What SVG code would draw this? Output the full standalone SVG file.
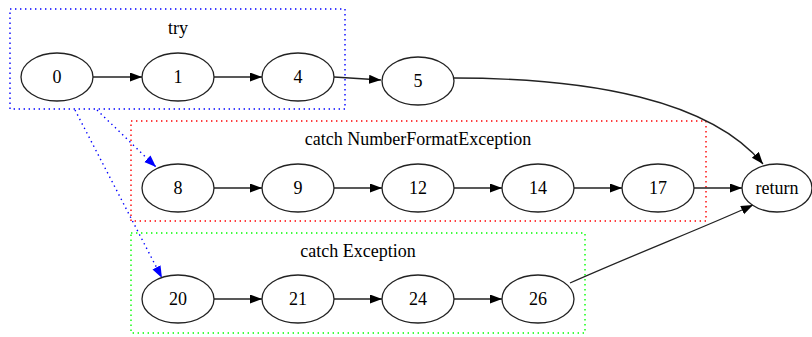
<svg xmlns="http://www.w3.org/2000/svg" width="812" height="337" viewBox="0 0 812 337">
<style>
  .node ellipse { fill: none; stroke: #222; stroke-width: 1.3; }
  text { font-family: "Liberation Serif", "Times New Roman", serif; font-size: 18px; fill: #000; text-anchor: middle; }
  .edge { fill: none; stroke: #222; stroke-width: 1.3; }
  .dot { fill: none; stroke: #0000ff; stroke-width: 1.4; stroke-dasharray: 1.4 3.6; }
  .cluster rect { fill: none; stroke-width: 1.4; stroke-dasharray: 1.4 3.6; }
</style>
<defs>
  <marker id="ah" markerUnits="userSpaceOnUse" markerWidth="13" markerHeight="10" refX="12" refY="4.5" orient="auto">
    <path d="M0,0 L12,4.5 L0,9 z" fill="#000"/>
  </marker>
  <marker id="ahb" markerUnits="userSpaceOnUse" markerWidth="13" markerHeight="10" refX="12" refY="4.5" orient="auto">
    <path d="M0,0 L12,4.5 L0,9 z" fill="#0000ff"/>
  </marker>
</defs>

<g id="cluster_try" class="cluster">
  <rect x="10" y="9" width="335" height="100" stroke="#0000ff"/>
  <text x="178" y="34">try</text>
</g>
<g id="cluster_nfe" class="cluster">
  <rect x="131" y="121" width="575" height="100" stroke="#ff0000"/>
  <text x="418" y="145">catch NumberFormatException</text>
</g>
<g id="cluster_exc" class="cluster">
  <rect x="131" y="233" width="454" height="100" stroke="#00ff00"/>
  <text x="358" y="257">catch Exception</text>
</g>

<g id="edges">
  <path class="edge" d="M93,77 L142,77" marker-end="url(#ah)"/>
  <path class="edge" d="M214,77 L262,77" marker-end="url(#ah)"/>
  <path class="edge" d="M334,77 L381,80" marker-end="url(#ah)"/>
  <path class="edge" d="M454,78 C590,78 710,100 763,164" marker-end="url(#ah)"/>
  <path class="edge" d="M214,188 L262,188" marker-end="url(#ah)"/>
  <path class="edge" d="M334,188 L382,188" marker-end="url(#ah)"/>
  <path class="edge" d="M454,188 L502,188" marker-end="url(#ah)"/>
  <path class="edge" d="M574,188 L622,188" marker-end="url(#ah)"/>
  <path class="edge" d="M694,188 L742,188" marker-end="url(#ah)"/>
  <path class="edge" d="M214,299 L262,299" marker-end="url(#ah)"/>
  <path class="edge" d="M334,299 L382,299" marker-end="url(#ah)"/>
  <path class="edge" d="M454,299 L502,299" marker-end="url(#ah)"/>
  <path class="edge" d="M570,283 C640,252 710,225 753,205" marker-end="url(#ah)"/>
  <path class="dot" d="M97,110 L156,167" marker-end="url(#ahb)"/>
  <path class="dot" d="M75,110 L162,278" marker-end="url(#ahb)"/>
</g>

<g id="n0" class="node"><ellipse cx="57" cy="77" rx="36" ry="24"/><text x="57" y="83">0</text></g>
<g id="n1" class="node"><ellipse cx="178" cy="77" rx="36" ry="24"/><text x="178" y="83">1</text></g>
<g id="n4" class="node"><ellipse cx="298" cy="77" rx="36" ry="24"/><text x="298" y="83">4</text></g>
<g id="n5" class="node"><ellipse cx="418" cy="81" rx="36" ry="24"/><text x="418" y="87">5</text></g>
<g id="n8" class="node"><ellipse cx="178" cy="188" rx="36" ry="24"/><text x="178" y="194">8</text></g>
<g id="n9" class="node"><ellipse cx="298" cy="188" rx="36" ry="24"/><text x="298" y="194">9</text></g>
<g id="n12" class="node"><ellipse cx="418" cy="188" rx="36" ry="24"/><text x="418" y="194">12</text></g>
<g id="n14" class="node"><ellipse cx="538" cy="188" rx="36" ry="24"/><text x="538" y="194">14</text></g>
<g id="n17" class="node"><ellipse cx="658" cy="188" rx="36" ry="24"/><text x="658" y="194">17</text></g>
<g id="nreturn" class="node"><ellipse cx="777" cy="188" rx="35" ry="24"/><text x="777" y="194">return</text></g>
<g id="n20" class="node"><ellipse cx="178" cy="299" rx="36" ry="24"/><text x="178" y="305">20</text></g>
<g id="n21" class="node"><ellipse cx="298" cy="299" rx="36" ry="24"/><text x="298" y="305">21</text></g>
<g id="n24" class="node"><ellipse cx="418" cy="299" rx="36" ry="24"/><text x="418" y="305">24</text></g>
<g id="n26" class="node"><ellipse cx="538" cy="299" rx="36" ry="24"/><text x="538" y="305">26</text></g>
</svg>
